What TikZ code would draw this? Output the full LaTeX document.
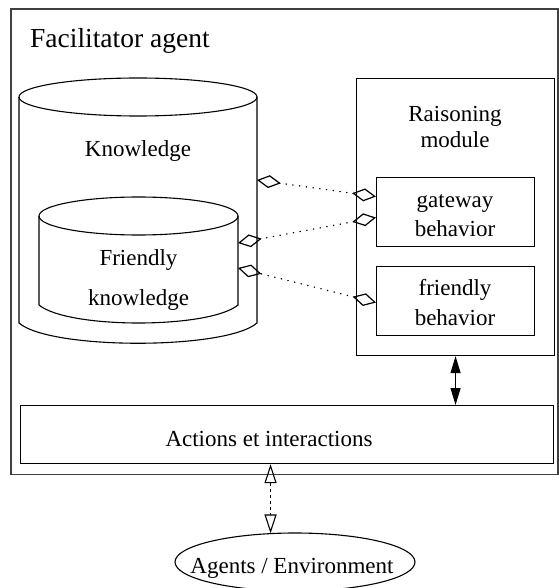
\documentclass[tikz,border=0pt]{standalone}
\usepackage{fontspec}
\setmainfont{Liberation Serif}
\usetikzlibrary{arrows.meta,shapes.geometric}
\begin{document}
\begin{tikzpicture}[x=1pt,y=-1pt,
  ln/.style={line width=1.1pt},
  box/.style={draw, line width=1.1pt, inner sep=0pt, anchor=north west},
  txt/.style={font=\fontsize{23}{27}\selectfont, anchor=base, inner sep=0pt},
  dia/.tip={Diamond[open,length=24pt,width=13pt,line width=1.2pt]},
  agg/.style={line width=1.4pt, line cap=round, dash pattern=on 0.3pt off 6.5pt, dia-dia},
  fat/.tip={Triangle[length=17pt,width=10pt]},
  hol/.tip={Triangle[open,length=19pt,width=12pt,line width=1.1pt]}
]
\useasboundingbox (0,0) rectangle (558,588);
% outer frame
\node[draw=black!75, line width=1.5pt, inner sep=0pt, anchor=north west,
      minimum width=547pt, minimum height=465pt] (frame) at (10,8.5) {};
\node[font=\fontsize{27.5}{32}\selectfont, anchor=base west, inner sep=0pt] (title) at (30,48) {Facilitator agent};
% outer cylinder
\draw[ln] (138,97) ellipse [x radius=119, y radius=19];
\draw[ln] (19,97) -- (19,323) .. controls (50,350) and (226,350) .. (257,323) -- (257,97);
% inner cylinder
\draw[ln] (138.5,216) ellipse [x radius=99.5, y radius=19];
\draw[ln] (39,216) -- (39,305) .. controls (68,329) and (209,329) .. (238,305) -- (238,216);
\coordinate (k1) at (257,180);
\coordinate (f1) at (238,243);
\coordinate (f2) at (238,268);
\node[txt] (kn) at (138,157) {Knowledge};
\node[txt] (fr1) at (138.5,265) {Friendly};
\node[txt] (fr2) at (138.5,305) {knowledge};
% reasoning module
\node[box, minimum width=198pt, minimum height=277pt] (rm) at (356,78) {};
\node[txt] (rm1) at (455,122) {Raisoning};
\node[txt] (rm2) at (455,148) {module};
\node[box, minimum width=158pt, minimum height=69pt] (gw) at (376,177) {};
\node[txt] (gw1) at (455,207) {gateway};
\node[txt] (gw2) at (455,236) {behavior};
\node[box, minimum width=158pt, minimum height=69pt] (fb) at (376,266) {};
\node[txt] (fb1) at (455,295) {friendly};
\node[txt] (fb2) at (455,325) {behavior};
% actions
\node[box, minimum width=533pt, minimum height=58pt] (actions) at (20,405) {};
\node[txt] (act) at (269,446) {Actions et interactions};
% environment
\node[draw, ellipse, ln, inner sep=0pt, minimum width=240pt, minimum height=58pt] (env) at (295,562) {};
\node[txt] (envt) at (292,573) {Agents / Environment};
% connectors
\draw[agg] ([yshift=15.5pt]gw.west) -- (k1);
\draw[agg] ([yshift=-5.5pt]gw.west) -- (f1);
\draw[agg] ([yshift=-1.5pt]fb.west) -- (f2);
\draw[ln, fat-fat] (rm.south) -- (rm.south |- actions.north);
\draw[ln, dashed, hol-hol] ([xshift=-16.5pt]actions.south) -- ([xshift=-16.5pt,yshift=-1pt]actions.south |- env.north);
\end{tikzpicture}
\end{document}
